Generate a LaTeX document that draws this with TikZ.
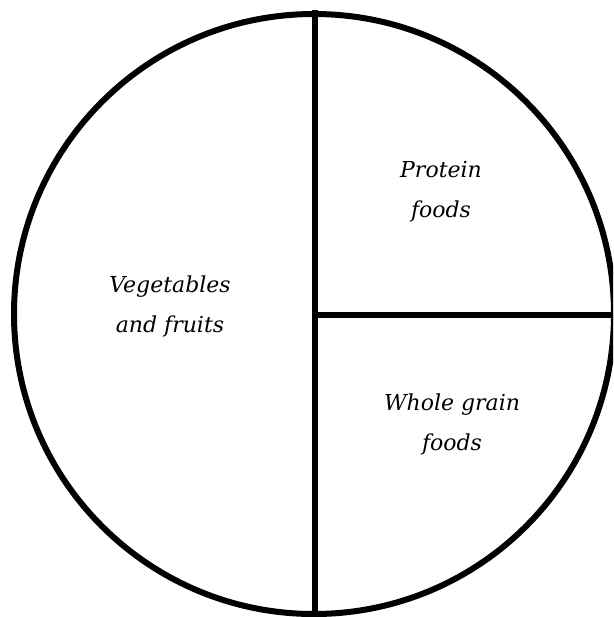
\documentclass[tikz,border=0pt]{standalone}
\usepackage{fontspec}
\setmainfont{DejaVu Serif}
\begin{document}
\begin{tikzpicture}[x=1pt,y=-1pt,
  outline/.style={line width=6pt},
  label/.style={font=\itshape\fontsize{22}{40}\selectfont, align=center, inner sep=0pt}]
\useasboundingbox (0,0) rectangle (613,617);
\clip (0,0) rectangle (613,617);
\fill[white] (0,0) rectangle (613,617);
\coordinate (c) at (314,314);
\coordinate (top) at (315,10);
\coordinate (bot) at (315,617);
\coordinate (mid) at (315,315);
\coordinate (right) at (620,315);
\draw[outline] (c) circle[radius=300];
\draw[outline] (top) -- (bot);
\draw[outline] (mid) -- (right);
\node[label] (veg) at (170,306) {Vegetables\\and fruits};
\node[label] (prot) at (441,192) {Protein\\foods};
\node[label] (grain) at (452,424) {Whole grain\\foods};
\end{tikzpicture}
\end{document}
